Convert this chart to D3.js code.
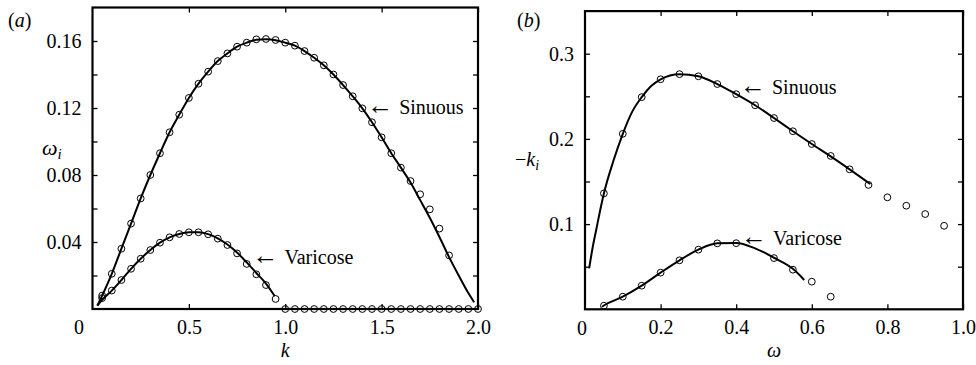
<!DOCTYPE html>
<html>
<head>
<meta charset="utf-8">
<script src="https://cdn.jsdelivr.net/npm/d3@7"></script>
<style>
  html, body { margin: 0; padding: 0; background: #fff; }
  svg { display: block; }
  text { font-family: "Liberation Serif", "Times New Roman", "DejaVu Serif", serif; fill: #000; }
</style>
</head>
<body>
<svg id="chart" width="976" height="365"></svg>
<script>
// ---------- Panel (a): temporal growth rate ω_i versus wavenumber k ----------
const aSinuousK = [0.05,0.10,0.15,0.20,0.25,0.30,0.35,0.40,0.45,0.50,0.55,0.60,0.65,0.70,0.75,0.80,0.85,0.90,0.95,1.00,1.05,1.10,1.15,1.20,1.25,1.30,1.35,1.40,1.45,1.50,1.55,1.60,1.65,1.70,1.75,1.80,1.85];
const aSinuousW = [0.008,0.021,0.036,0.051,0.066,0.080,0.093,0.1055,0.116,0.126,0.1345,0.1417,0.148,0.1526,0.1566,0.159,0.161,0.1612,0.1606,0.159,0.1572,0.154,0.150,0.1455,0.140,0.1337,0.127,0.1198,0.1115,0.1025,0.093,0.0844,0.0764,0.0685,0.0595,0.048,0.032];

const aSinuousLineK = [0.025,0.05,0.10,0.15,0.20,0.25,0.30,0.35,0.40,0.45,0.50,0.55,0.60,0.65,0.70,0.75,0.80,0.85,0.90,0.95,1.00,1.05,1.10,1.15,1.20,1.25,1.30,1.35,1.40,1.45,1.50,1.55,1.60,1.65,1.70,1.75,1.80,1.85,1.90,1.95,1.98];
const aSinuousLineW = [0.002,0.008,0.021,0.036,0.051,0.066,0.080,0.093,0.1055,0.116,0.126,0.1345,0.1417,0.148,0.1526,0.1566,0.159,0.1608,0.161,0.1605,0.159,0.1572,0.154,0.150,0.1455,0.140,0.1337,0.127,0.1198,0.1115,0.1025,0.093,0.0844,0.0755,0.065,0.0545,0.043,0.031,0.020,0.0095,0.004];

const aVaricoseK = [0.05,0.10,0.15,0.20,0.25,0.30,0.35,0.40,0.45,0.50,0.55,0.60,0.65,0.70,0.75,0.80,0.85,0.90,0.95];
const aVaricoseW = [0.0065,0.011,0.0173,0.024,0.030,0.0352,0.0396,0.0428,0.0448,0.0458,0.0458,0.0446,0.042,0.0382,0.0332,0.0269,0.0207,0.0143,0.006];

const aVaricoseLineK = [0.025,0.05,0.10,0.15,0.20,0.25,0.30,0.35,0.40,0.45,0.50,0.55,0.60,0.65,0.70,0.75,0.80,0.85,0.90,0.945];
const aVaricoseLineW = [0.002,0.0055,0.011,0.0173,0.024,0.030,0.0352,0.0396,0.0428,0.0448,0.0458,0.0458,0.0447,0.0422,0.0385,0.0337,0.0278,0.0215,0.0152,0.0078];

// stable (zero growth) modes past k = 1
const aStableK = [1.00,1.05,1.10,1.15,1.20,1.25,1.30,1.35,1.40,1.45,1.50,1.55,1.60,1.65,1.70,1.75,1.80,1.85,1.90,1.95,2.00];
const aStableW = [0,0,0,0,0,0,0,0,0,0,0,0,0,0,0,0,0,0,0,0,0];

const aXTicks = [0.5, 1.0, 1.5, 2.0];
const aXTickLabels = ["0.5", "1.0", "1.5", "2.0"];
const aYTicks = [0.02,0.04,0.06,0.08,0.10,0.12,0.14,0.16];
const aYTickLabels = ["", "0.04", "", "0.08", "", "0.12", "", "0.16"];

// ---------- Panel (b): spatial growth rate −k_i versus frequency ω ----------
const bSinuousW = [0.05,0.10,0.15,0.20,0.25,0.30,0.35,0.40,0.45,0.50,0.55,0.60,0.65,0.70,0.75,0.80,0.85,0.90,0.95];
const bSinuousK = [0.136,0.206,0.249,0.270,0.276,0.2735,0.2644,0.2525,0.2395,0.2245,0.209,0.194,0.180,0.1643,0.146,0.1314,0.1216,0.1118,0.098];

const bSinuousLineW = [0.011,0.02,0.03,0.04,0.05,0.075,0.10,0.125,0.15,0.175,0.20,0.25,0.30,0.35,0.40,0.45,0.50,0.55,0.60,0.65,0.70,0.755];
const bSinuousLineK = [0.048,0.072,0.094,0.116,0.136,0.174,0.206,0.232,0.249,0.262,0.270,0.276,0.2735,0.2644,0.2525,0.2395,0.2245,0.209,0.194,0.1795,0.1643,0.147];

const bVaricoseW = [0.05,0.10,0.15,0.20,0.25,0.30,0.35,0.40,0.50,0.55,0.60,0.65];
const bVaricoseK = [0.0042,0.0148,0.0277,0.043,0.0575,0.070,0.0774,0.0776,0.0601,0.0465,0.0324,0.0148];

const bVaricoseLineW = [0.045,0.05,0.10,0.15,0.20,0.25,0.30,0.35,0.40,0.45,0.50,0.55,0.58];
const bVaricoseLineK = [0.003,0.0045,0.0148,0.0277,0.043,0.0575,0.070,0.0774,0.0778,0.0715,0.0605,0.0475,0.0344];

const bXTicks = [0.2, 0.4, 0.6, 0.8, 1.0];
const bXTickLabels = ["0.2", "0.4", "0.6", "0.8", "1.0"];
const bYTicks = [0.05,0.10,0.15,0.20,0.25,0.30];
const bYTickLabels = ["", "0.1", "", "0.2", "", "0.3"];

// ---------- drawing ----------
const svg = d3.select("#chart");
const FONT = 20;
const SERIF = '"Liberation Serif", "Times New Roman", serif';

function zip(xs, ys) { return xs.map((x, i) => [x, ys[i]]); }

function panel(opts) {
  const { x, y, xTicks, xLabels, yTicks, yLabels, zeroDx } = opts;
  const g = svg.append("g");
  const [x0, x1] = x.range();
  const [y0, y1] = y.range();

  // bottom axis with inward ticks
  g.append("g").attr("transform", `translate(0,${y0})`)
    .call(d3.axisBottom(x).tickValues(xTicks).tickSizeInner(-5).tickSizeOuter(0).tickPadding(11)
      .tickFormat((d, i) => xLabels[i]));
  // top axis, ticks only
  g.append("g").attr("transform", `translate(0,${y1})`)
    .call(d3.axisTop(x).tickValues(xTicks).tickSizeInner(-5).tickSizeOuter(0).tickFormat(""));
  // left axis
  g.append("g").attr("transform", `translate(${x0},0)`)
    .call(d3.axisLeft(y).tickValues(yTicks).tickSizeInner(-5).tickSizeOuter(0).tickPadding(11)
      .tickFormat((d, i) => yLabels[i]));
  // right axis, ticks only
  g.append("g").attr("transform", `translate(${x1},0)`)
    .call(d3.axisRight(y).tickValues(yTicks).tickSizeInner(-5).tickSizeOuter(0).tickFormat(""));

  g.selectAll(".domain").remove();
  g.selectAll(".tick line").attr("stroke", "#000").attr("stroke-width", 1.3);
  g.selectAll("g").attr("font-family", SERIF);
  g.selectAll(".tick text").attr("font-size", FONT).attr("fill", "#000");

  // origin label
  g.append("text")
    .attr("x", x(0) + zeroDx).attr("y", y0 + 11).attr("dy", "0.71em")
    .attr("text-anchor", "middle").attr("font-size", FONT).text("0");

  // frame
  g.append("rect")
    .attr("x", x0).attr("y", y1).attr("width", x1 - x0).attr("height", y0 - y1)
    .attr("fill", "none").attr("stroke", "#000").attr("stroke-width", 2.2);
  return g;
}

function curve(g, x, y, pts) {
  g.append("path")
    .datum(pts)
    .attr("d", d3.line().x(d => x(d[0])).y(d => y(d[1])).curve(d3.curveMonotoneX))
    .attr("fill", "none").attr("stroke", "#000").attr("stroke-width", 2);
}

function markers(g, x, y, pts) {
  g.append("g").selectAll("circle").data(pts).join("circle")
    .attr("cx", d => x(d[0])).attr("cy", d => y(d[1])).attr("r", 3.4)
    .attr("fill", "none").attr("stroke", "#000").attr("stroke-width", 1);
}

// arrow annotation; (px, py) is the arrow tip at the text's mid-height
function note(g, px, py, label) {
  const t = g.append("text").attr("x", px).attr("y", py + 7).attr("font-size", FONT);
  t.append("tspan").attr("font-size", 26).text("←");
  t.append("tspan").attr("dx", 6).text(label);
}

// panel (a)
const xa = d3.scaleLinear().domain([0, 2]).range([92.5, 478]);
const ya = d3.scaleLinear().domain([0, 0.18]).range([309, 7.5]);
const ga = panel({ x: xa, y: ya, xTicks: aXTicks, xLabels: aXTickLabels, yTicks: aYTicks, yLabels: aYTickLabels, zeroDx: -13.5 });
curve(ga, xa, ya, zip(aSinuousLineK, aSinuousLineW));
curve(ga, xa, ya, zip(aVaricoseLineK, aVaricoseLineW));
markers(ga, xa, ya, zip(aSinuousK, aSinuousW));
markers(ga, xa, ya, zip(aVaricoseK, aVaricoseW));
markers(ga, xa, ya, zip(aStableK, aStableW));
note(ga, xa(1.425), ya(0.1205), "Sinuous");
note(ga, xa(0.83), ya(0.031), "Varicose");

ga.append("text").attr("x", 8).attr("y", 27).attr("font-size", FONT)
  .html('(<tspan font-style="italic">a</tspan>)');
const wlab = ga.append("text").attr("x", 42).attr("y", 155).attr("font-size", 22);
wlab.append("tspan").attr("font-style", "italic").text("ω");
wlab.append("tspan").attr("font-style", "italic").attr("font-size", 15).attr("dy", 4).text("i");
ga.append("text").attr("x", (xa.range()[0] + xa.range()[1]) / 2).attr("y", 357)
  .attr("text-anchor", "middle").attr("font-size", FONT).attr("font-style", "italic").text("k");

// panel (b)
const xb = d3.scaleLinear().domain([0, 1]).range([585, 963]);
const yb = d3.scaleLinear().domain([0, 0.35]).range([309.3, 11.1]);
const gb = panel({ x: xb, y: yb, xTicks: bXTicks, xLabels: bXTickLabels, yTicks: bYTicks, yLabels: bYTickLabels, zeroDx: -3 });
curve(gb, xb, yb, zip(bSinuousLineW, bSinuousLineK));
curve(gb, xb, yb, zip(bVaricoseLineW, bVaricoseLineK));
markers(gb, xb, yb, zip(bSinuousW, bSinuousK));
markers(gb, xb, yb, zip(bVaricoseW, bVaricoseK));
note(gb, xb(0.41), yb(0.261), "Sinuous");
note(gb, xb(0.413), yb(0.0837), "Varicose");

gb.append("text").attr("x", 517).attr("y", 27).attr("font-size", FONT)
  .html('(<tspan font-style="italic">b</tspan>)');
const klab = gb.append("text").attr("x", 515).attr("y", 166).attr("font-size", FONT);
klab.append("tspan").text("−");
klab.append("tspan").attr("font-style", "italic").text("k");
klab.append("tspan").attr("font-style", "italic").attr("font-size", 14).attr("dy", 4).text("i");
gb.append("text").attr("x", (xb.range()[0] + xb.range()[1]) / 2).attr("y", 357)
  .attr("text-anchor", "middle").attr("font-size", FONT).attr("font-style", "italic").text("ω");
</script>
</body>
</html>
